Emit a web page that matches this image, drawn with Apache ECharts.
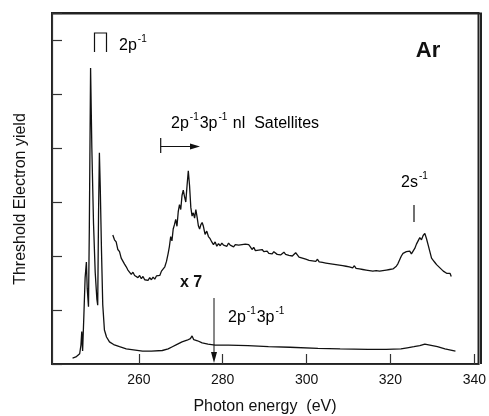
<!DOCTYPE html>
<html><head><meta charset="utf-8">
<script src="https://cdn.jsdelivr.net/npm/echarts@6/dist/echarts.min.js"></script>
<style>html,body{margin:0;padding:0;background:#fff}#c{width:489px;height:416px}</style>
</head><body><div id="c"></div>
<script>
// Photon energy (eV) tick labels
const xTicks = [260, 280, 300, 320, 340];
// Lower spectrum: [photon energy eV, yield]
const mainSpectrum = [
[244.2,0.11],[245.0,0.13],[245.9,0.19],[246.2,0.35],[246.4,0.60],[246.6,0.24],[246.9,0.9],[247.2,1.6],[247.5,1.89],[247.7,1.4],
[248.0,1.06],[248.2,2.5],[248.5,5.48],[248.8,4.0],[249.2,2.6],[249.6,1.7],[250.0,1.2],[250.2,1.09],[250.4,2.8],[250.6,3.91],
[250.8,3.3],[251.1,2.1],[251.4,1.1],[251.8,0.63],[252.3,0.5],[253.0,0.41],[254,0.36],[255.4,0.32],[257,0.28],[260.9,0.24],
[263,0.24],[265.6,0.25],[267,0.28],[268,0.32],[269,0.36],[270.3,0.41],[271.5,0.44],[272.3,0.47],[272.7,0.52],[273.1,0.45],
[274,0.43],[275.1,0.39],[276.5,0.37],[278.2,0.35],[281.4,0.35],[286,0.34],[290.9,0.32],[296,0.31],[302.7,0.29],[308,0.28],
[314.6,0.27],[319,0.27],[322.5,0.28],[324,0.30],[325.6,0.32],[327,0.34],[328.2,0.37],[328.8,0.36],[330,0.34],[331.2,0.32],
[333,0.28],[335.5,0.24]
];
// Upper spectrum (x 7 magnified, shifted): [photon energy eV, yield]
const magnifiedSpectrum = [
[253.8,2.39],[254.2,2.30],[254.6,2.26],[255.0,2.12],[255.4,2.08],[255.8,1.96],[256.2,1.93],[256.6,1.85],[257.0,1.80],[257.4,1.74],
[257.8,1.72],[258.2,1.66],[258.6,1.70],[259.0,1.64],[259.4,1.66],[259.8,1.60],[260.2,1.64],[260.6,1.58],[261.0,1.62],[261.4,1.56],
[261.8,1.59],[262.2,1.55],[262.6,1.60],[263.0,1.56],[263.4,1.61],[263.8,1.57],[264.2,1.63],[264.6,1.66],[265.0,1.64],[265.4,1.72],
[265.8,1.75],[266.2,1.80],[266.6,1.90],[267.0,2.05],[267.3,2.18],[267.6,2.36],[267.9,2.28],[268.2,2.50],[268.5,2.58],[268.8,2.68],
[269.1,2.55],[269.4,2.82],[269.7,2.95],[270.0,2.86],[270.3,3.12],[270.6,3.22],[270.9,3.10],[271.2,3.00],[271.5,3.30],[271.8,3.58],
[272.1,3.30],[272.4,2.90],[272.7,2.74],[273.0,2.80],[273.3,2.70],[273.6,2.86],[273.9,2.72],[274.2,2.56],[274.5,2.50],[274.8,2.58],
[275.1,2.62],[275.4,2.55],[275.8,2.40],[276.2,2.46],[276.6,2.36],[277.0,2.32],[277.4,2.26],[277.8,2.21],[278.2,2.26],[278.6,2.18],
[279.0,2.23],[279.4,2.19],[279.8,2.24],[280.2,2.20],[280.6,2.22],[281.0,2.18],[281.4,2.24],[281.8,2.20],[282.2,2.22],[282.6,2.17],
[283.0,2.21],[283.4,2.24],[283.8,2.20],[284.2,2.23],[284.6,2.21],[285.0,2.24],[285.4,2.22],[285.8,2.23],[286.2,2.21],[286.6,2.17],
[287.0,2.12],[287.4,2.16],[287.8,2.10],[288.2,2.13],[288.6,2.11],[289.0,2.09],[289.4,2.12],[289.8,2.08],[290.2,2.06],[290.6,2.09],
[291.0,2.05],[291.4,2.07],[291.8,2.04],[292.2,2.08],[292.6,2.05],[293.0,2.03],[293.4,2.06],[293.8,2.02],[294.2,2.05],[294.6,2.07],
[295.0,2.03],[295.4,2.06],[295.8,2.01],[296.2,2.04],[296.6,2.00],[297.0,2.03],[297.4,2.06],[297.8,2.02],[298.2,1.98],[298.6,2.01],
[299.0,1.96],[299.4,1.98],[299.8,1.94],[300.2,1.96],[300.6,1.92],[301.0,1.95],[301.4,1.91],[301.8,1.93],[302.2,1.90],[302.6,1.94],
[303.0,1.89],[303.4,1.92],[303.8,1.88],[304.2,1.91],[304.6,1.87],[305.0,1.90],[305.4,1.86],[305.8,1.89],[306.2,1.85],[306.6,1.88],
[307.0,1.84],[307.4,1.87],[307.8,1.83],[308.2,1.86],[308.6,1.82],[309.0,1.85],[309.4,1.81],[309.8,1.84],[310.2,1.80],[310.6,1.83],
[311.0,1.78],[311.4,1.82],[311.8,1.77],[312.2,1.80],[312.6,1.76],[313.0,1.79],[313.4,1.75],[313.8,1.78],[314.2,1.74],[314.6,1.77],
[315.0,1.73],[315.4,1.76],[315.8,1.72],[316.2,1.75],[316.6,1.73],[317.0,1.76],[317.4,1.72],[317.8,1.75],[318.2,1.73],[318.6,1.76],
[319.0,1.74],[319.4,1.77],[319.8,1.75],[320.2,1.78],[320.6,1.76],[321.0,1.79],[321.4,1.81],[321.8,1.86],[322.2,1.93],[322.6,2.00],
[323.0,2.05],[323.4,2.02],[323.8,2.08],[324.2,2.06],[324.6,2.09],[325.0,2.04],[325.4,2.06],[325.8,2.14],[326.2,2.22],[326.6,2.28],
[327.0,2.34],[327.4,2.30],[327.8,2.38],[328.2,2.42],[328.6,2.32],[329.0,2.20],[329.4,2.08],[329.8,1.96],[330.2,1.92],[330.6,1.88],
[331.0,1.84],[331.4,1.82],[331.8,1.78],[332.2,1.75],[332.6,1.72],[333.0,1.74],[333.4,1.68],[333.8,1.65],[334.2,1.68],[334.5,1.62]
];

const FONT = '"Liberation Sans", Arial, sans-serif';
const INK = '#111';
const chart = echarts.init(document.getElementById('c'));
const supRich = {
  b: {fontSize: 16, fontFamily: FONT, color: INK, lineHeight: 20, verticalAlign: 'bottom'},
  s: {fontSize: 10, fontFamily: FONT, color: INK, lineHeight: 20, verticalAlign: 'top', padding: [0, 1, 0, 1]}
};
chart.setOption({
  animation: false,
  grid: {left: 52, right: 8, top: 13, bottom: 52, show: true, borderColor: '#222', borderWidth: 2},
  xAxis: {
    type: 'value', min: 239.3, max: 341,
    axisLine: {onZero: false, lineStyle: {color: '#333', width: 1.2}},
    axisTick: {inside: true, length: 10, customValues: xTicks, lineStyle: {color: '#333', width: 1.2}},
    axisLabel: {customValues: xTicks, fontFamily: FONT, fontSize: 14, color: INK, margin: 9},
    splitLine: {show: false}
  },
  yAxis: {
    type: 'value', min: 0, max: 6.5, interval: 1,
    axisLine: {show: true, onZero: false, lineStyle: {color: '#333', width: 1.2}},
    axisTick: {show: true, inside: true, length: 10, lineStyle: {color: '#333', width: 1.2}},
    axisLabel: {show: false},
    splitLine: {show: false}
  },
  series: [
    {type: 'line', data: mainSpectrum, showSymbol: false, lineStyle: {color: INK, width: 1.3}},
    {type: 'line', data: magnifiedSpectrum, showSymbol: false, lineStyle: {color: INK, width: 1.3}}
  ],
  graphic: [
    // plot frame
    {type: 'polyline', shape: {points: [[52, 364], [52, 13.5], [481, 13.5], [481, 364]]}, style: {stroke: '#222', lineWidth: 2, fill: null}},
    // axis titles
    {type: 'text', x: 265, y: 399, style: {text: 'Photon energy  (eV)', font: '16px ' + FONT, fill: INK, align: 'center'}},
    {type: 'text', x: 21, y: 199, rotation: Math.PI / 2, style: {text: 'Threshold Electron yield', font: '16px ' + FONT, fill: INK, align: 'center', verticalAlign: 'middle'}},
    // Ar label
    {type: 'text', x: 428, y: 51, style: {text: 'Ar', font: 'bold 22px ' + FONT, fill: INK, align: 'center', verticalAlign: 'middle'}},
    // 2p-1 bracket
    {type: 'polyline', shape: {points: [[94.5, 52], [94.5, 33], [106.5, 33], [106.5, 52]]}, style: {stroke: INK, lineWidth: 1.2, fill: null}},
    {type: 'text', x: 119, y: 34, style: {text: '{b|2p}{s|-1}', rich: supRich}},
    // satellites label and arrow
    {type: 'text', x: 171, y: 112, style: {text: '{b|2p}{s|-1}{b|3p}{s|-1}{b| nl  Satellites}', rich: supRich}},
    {type: 'line', shape: {x1: 160.7, y1: 138, x2: 160.7, y2: 153}, style: {stroke: INK, lineWidth: 1.2}},
    {type: 'line', shape: {x1: 160.7, y1: 146.5, x2: 193, y2: 146.5}, style: {stroke: INK, lineWidth: 1}},
    {type: 'polygon', shape: {points: [[200, 146.5], [190, 143.5], [190, 149.5]]}, style: {fill: INK}},
    // 2s-1 label and marker
    {type: 'text', x: 401, y: 171, style: {text: '{b|2s}{s|-1}', rich: supRich}},
    {type: 'line', shape: {x1: 414, y1: 205, x2: 414, y2: 222}, style: {stroke: INK, lineWidth: 1.2}},
    // x 7
    {type: 'text', x: 191, y: 283, style: {text: 'x 7', font: 'bold 16px ' + FONT, fill: INK, align: 'center', verticalAlign: 'middle'}},
    // 2p-1 3p-1 threshold arrow
    {type: 'line', shape: {x1: 214, y1: 298, x2: 214, y2: 355}, style: {stroke: INK, lineWidth: 1}},
    {type: 'polygon', shape: {points: [[214, 363], [211, 352], [217, 352]]}, style: {fill: INK}},
    {type: 'text', x: 228, y: 306, style: {text: '{b|2p}{s|-1}{b|3p}{s|-1}', rich: supRich}}
  ]
});
</script>
</body></html>
